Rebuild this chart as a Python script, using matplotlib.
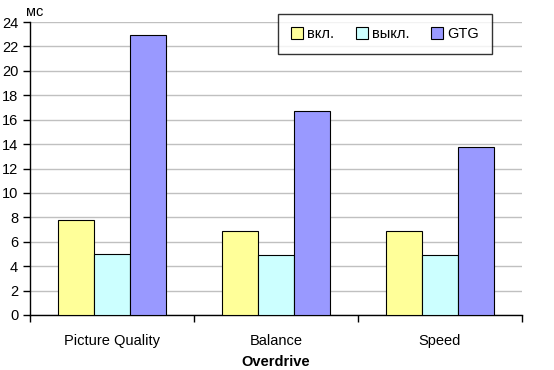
import numpy as np
import matplotlib.pyplot as plt

categories = ['Picture Quality', 'Balance', 'Speed']
series_names = ['вкл.', 'выкл.', 'GTG']
on_vals = [7.8, 6.9, 6.9]
off_vals = [5.0, 4.9, 4.9]
gtg_vals = [22.9, 16.7, 13.8]
colors = ['#FFFF99', '#CCFFFF', '#9999FF']

plt.rcParams['font.family'] = ['Liberation Sans', 'DejaVu Sans']

fig = plt.figure(figsize=(5.54, 3.70), dpi=100)
ax = fig.add_axes([30 / 554, 55 / 370, 492 / 554, 293 / 370])

x = np.arange(len(categories))
w = 0.22
for i, (vals, name) in enumerate(zip([on_vals, off_vals, gtg_vals], series_names)):
    ax.bar(x + (i - 1) * w, vals, width=w, color=colors[i], edgecolor='black',
           linewidth=0.8, label=name, zorder=3)

ax.set_xlim(-0.5, 2.5)
ax.set_ylim(0, 24)
ax.set_yticks(range(0, 25, 2))
ax.set_xticks([-0.5, 0.5, 1.5, 2.5])
ax.set_xticklabels([])
ax.set_xticks(x, minor=True)
ax.set_xticklabels(categories, minor=True, fontsize=10.5)
ax.tick_params(axis='x', which='minor', length=0, pad=14)
ax.tick_params(axis='x', which='major', length=5, direction='out', width=1)
ax.tick_params(axis='y', length=5, direction='out', labelsize=10.5, width=1)
ax.grid(axis='y', color='#C0C0C0', linewidth=1, zorder=0)
for s in ['top', 'right']:
    ax.spines[s].set_visible(False)
ax.spines['left'].set_linewidth(1)
ax.spines['bottom'].set_linewidth(1)
ax.set_xlabel('Overdrive', fontsize=10.5, fontweight='bold', labelpad=5)
fig.text(26 / 554, 1 - 12 / 370, 'мс', fontsize=10.5, va='center', ha='left')

leg = ax.legend(ncol=3, loc='upper left', bbox_to_anchor=(248 / 492, 1 + 8 / 293),
                borderaxespad=0, fontsize=10.5, frameon=True, fancybox=False,
                edgecolor='black', handlelength=0.8, handleheight=0.8,
                columnspacing=1.5, handletextpad=0.3, borderpad=0.9)
leg.get_frame().set_linewidth(1)

fig.savefig('out.png', dpi=100)
